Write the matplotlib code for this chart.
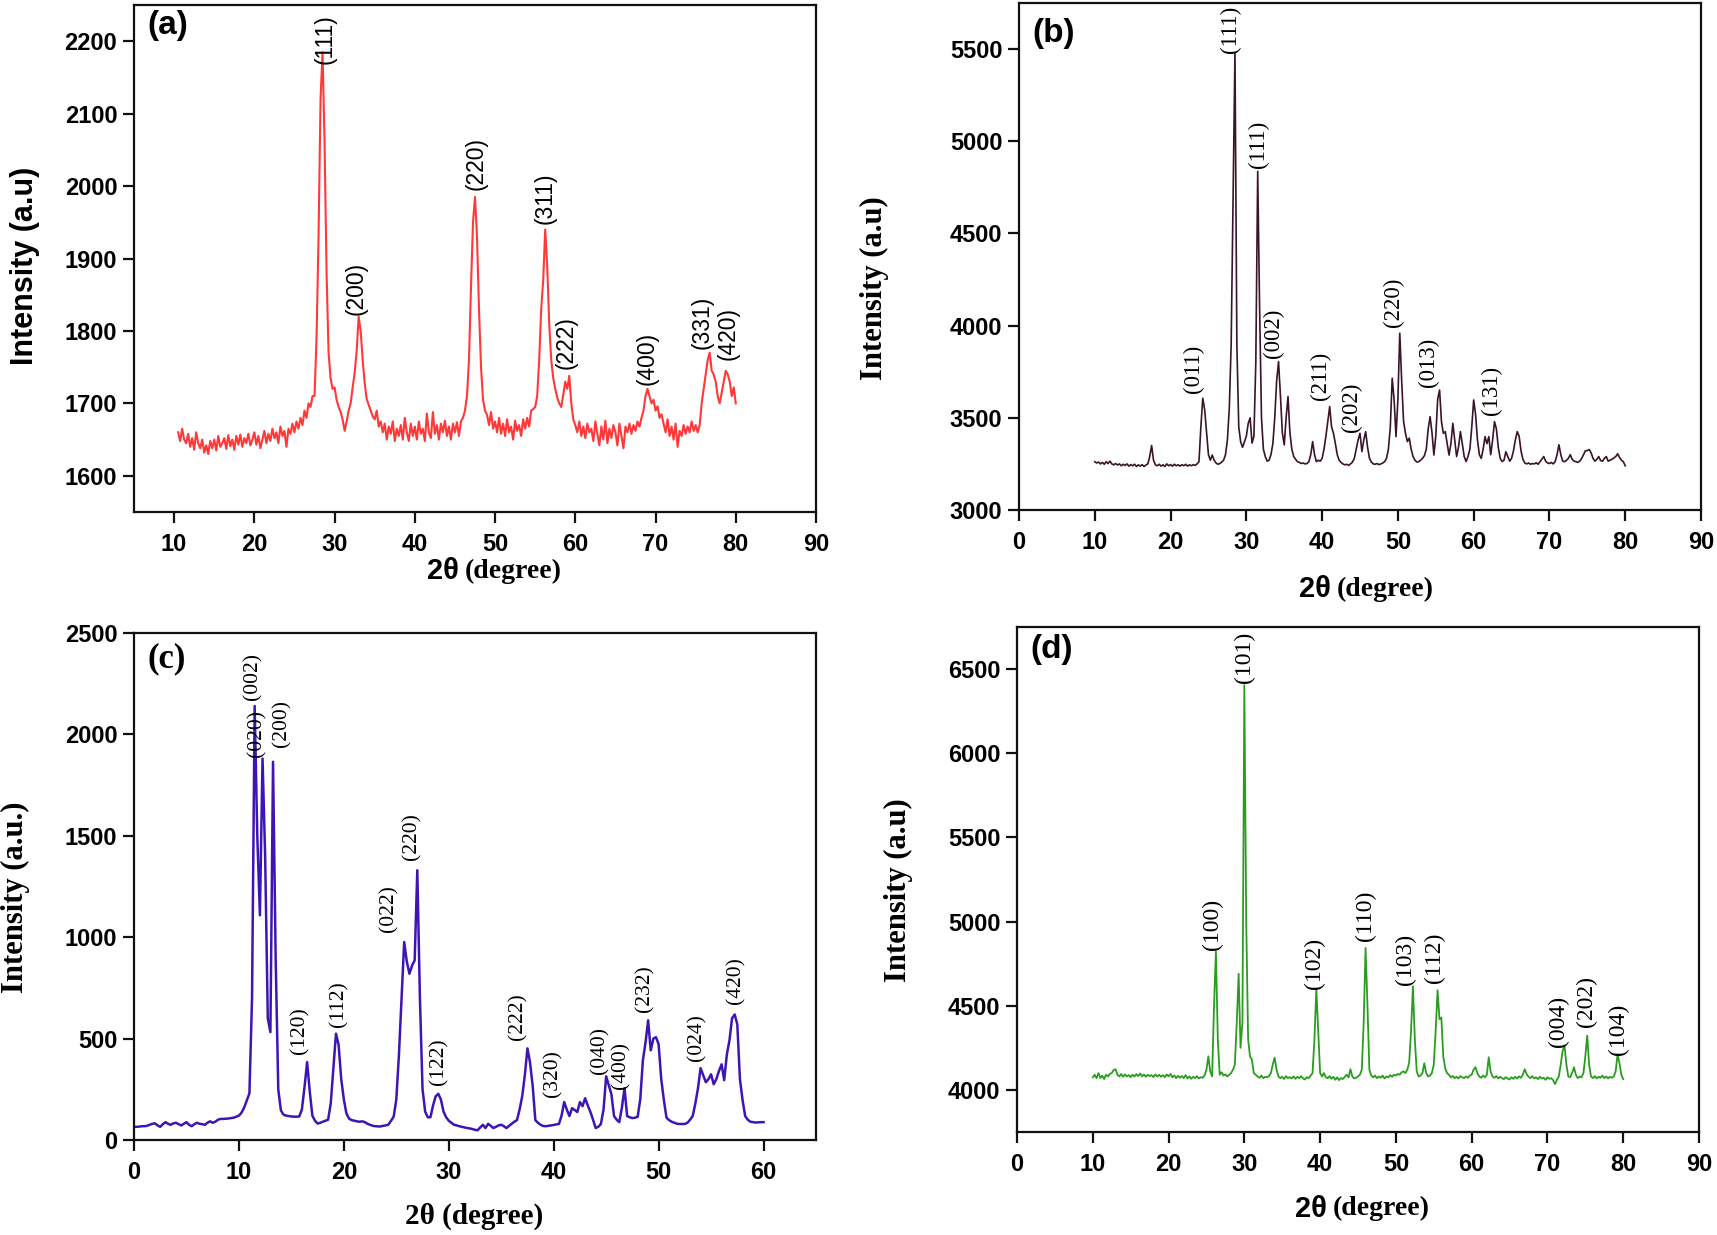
import numpy as np
import matplotlib
matplotlib.use("Agg")
import matplotlib.pyplot as plt

SANS = ['Liberation Sans', 'DejaVu Sans']
SERIF = ['Liberation Serif', 'DejaVu Serif']

STEP = 0.25

# ---------------- panel (a) ----------------
a_start = 10.5
a_y = [
    1660, 1648,
    1665, 1650, 1645, 1658,  # 11
    1640, 1652, 1636, 1660,  # 12
    1645, 1638, 1650, 1632,  # 13
    1642, 1630, 1648, 1638,  # 14
    1650, 1635, 1655, 1640,  # 15
    1645, 1652, 1637, 1656,  # 16
    1641, 1650, 1636, 1655,  # 17
    1643, 1657, 1640, 1652,  # 18
    1645, 1658, 1642, 1650,  # 19
    1660, 1643, 1655, 1638,  # 20
    1650, 1662, 1645, 1658,  # 21
    1648, 1665, 1652, 1660,  # 22
    1645, 1668, 1655, 1662,  # 23
    1640, 1665, 1658, 1672,  # 24
    1660, 1675, 1665, 1680,  # 25
    1670, 1690, 1680, 1700,  # 26
    1695, 1710, 1710, 1790,  # 27
    1930, 2120, 2185, 2060,  # 28
    1880, 1770, 1735, 1720,  # 29
    1722, 1705, 1695, 1688,  # 30
    1678, 1662, 1675, 1690,  # 31
    1700, 1722, 1742, 1772,  # 32
    1820, 1800, 1760, 1728,  # 33
    1706, 1698, 1690, 1682,  # 34
    1678, 1690, 1668, 1675,  # 35
    1660, 1672, 1650, 1668,  # 36
    1658, 1675, 1648, 1665,  # 37
    1655, 1670, 1650, 1680,  # 38
    1660, 1648, 1672, 1655,  # 39
    1668, 1650, 1675, 1658,  # 40
    1665, 1648, 1686, 1660,  # 41
    1652, 1688, 1658, 1670,  # 42
    1650, 1672, 1660, 1676,  # 43
    1655, 1668, 1650, 1672,  # 44
    1660, 1674, 1655, 1675,  # 45
    1680, 1690, 1710, 1760,  # 46
    1860, 1950, 1985, 1930,  # 47
    1830, 1750, 1705, 1690,  # 48
    1684, 1670, 1688, 1665,  # 49
    1675, 1660, 1680, 1658,  # 50
    1672, 1655, 1678, 1660,  # 51
    1668, 1650, 1676, 1662,  # 52
    1670, 1655, 1678, 1665,  # 53
    1680, 1668, 1690, 1692,  # 54
    1695, 1710, 1760, 1830,  # 55
    1870, 1940, 1890, 1810,  # 56
    1760, 1735, 1720, 1708,  # 57
    1700, 1695, 1712, 1730,  # 58
    1720, 1738, 1700, 1678,  # 59
    1670, 1660, 1675, 1655,  # 60
    1668, 1652, 1672, 1660,  # 61
    1665, 1648, 1675, 1658,  # 62
    1642, 1668, 1650, 1676,  # 63
    1645, 1665, 1652, 1670,  # 64
    1660, 1642, 1672, 1655,  # 65
    1638, 1668, 1660, 1672,  # 66
    1658, 1670, 1662, 1675,  # 67
    1668, 1680, 1690, 1710,  # 68
    1720, 1710, 1700, 1705,  # 69
    1690, 1696, 1680, 1685,  # 70
    1672, 1660, 1678, 1655,  # 71
    1668, 1650, 1672, 1640,  # 72
    1662, 1655, 1670, 1658,  # 73
    1668, 1660, 1675, 1662,  # 74
    1670, 1660, 1670, 1700,  # 75
    1720, 1740, 1760, 1770,  # 76
    1745, 1740, 1730, 1710,  # 77
    1700, 1715, 1730, 1745,  # 78
    1740, 1730, 1710, 1722,  # 79
    1700,                    # 80
]
a_labels = ['(111)', '(200)', '(220)', '(311)', '(222)', '(400)', '(331)', '(420)']
a_lx = [28.8, 32.7, 47.6, 56.2, 58.9, 68.9, 75.8, 79.1]
a_ly = [2168, 1822, 1994, 1947, 1748, 1726, 1775, 1760]

# ---------------- panel (b) ----------------
b_start = 10.0
b_y = [
    3262, 3255, 3260, 3250,  # 10
    3258, 3248, 3262, 3252,  # 11
    3265, 3250, 3245, 3252,  # 12
    3244, 3250, 3240, 3248,  # 13
    3242, 3250, 3238, 3246,  # 14
    3240, 3248, 3236, 3245,  # 15
    3238, 3246, 3236, 3244,  # 16
    3250, 3290, 3350, 3270,  # 17
    3245, 3240, 3248, 3238,  # 18
    3245, 3236, 3250, 3240,  # 19
    3246, 3238, 3248, 3240,  # 20
    3245, 3238, 3246, 3240,  # 21
    3248, 3238, 3245, 3240,  # 22
    3246, 3242, 3250, 3262,  # 23
    3450, 3606, 3545, 3420,  # 24
    3300, 3270, 3298, 3270,  # 25
    3255, 3248, 3252, 3260,  # 26
    3270, 3300, 3380, 3550,  # 27
    3900, 4700, 5480, 3900,  # 28
    3450, 3370, 3340, 3370,  # 29
    3400, 3470, 3500, 3363,  # 30
    3400, 3800, 4837, 4100,  # 31
    3500, 3330, 3290, 3265,  # 32
    3270, 3300, 3360, 3500,  # 33
    3700, 3805, 3620, 3420,  # 34
    3353, 3500, 3615, 3420,  # 35
    3330, 3290, 3275, 3262,  # 36
    3258, 3252, 3255, 3250,  # 37
    3252, 3262, 3300, 3371,  # 38
    3300, 3262, 3270, 3265,  # 39
    3280, 3330, 3400, 3480,  # 40
    3561, 3450, 3416, 3360,  # 41
    3300, 3270, 3258, 3250,  # 42
    3245, 3248, 3242, 3250,  # 43
    3260, 3280, 3330, 3380,  # 44
    3416, 3317, 3380, 3425,  # 45
    3340, 3280, 3260, 3250,  # 46
    3248, 3252, 3246, 3250,  # 47
    3255, 3262, 3280, 3330,  # 48
    3450, 3715, 3600, 3398,  # 49
    3600, 3959, 3700, 3480,  # 50
    3416, 3371, 3390, 3330,  # 51
    3290, 3270, 3260, 3262,  # 52
    3270, 3280, 3295, 3330,  # 53
    3440, 3506, 3420, 3298,  # 54
    3400, 3600, 3651, 3480,  # 55
    3416, 3425, 3360, 3298,  # 56
    3360, 3470, 3380, 3290,  # 57
    3340, 3425, 3360, 3290,  # 58
    3263, 3290, 3330, 3450,  # 59
    3597, 3520, 3380, 3300,  # 60
    3280, 3330, 3398, 3360,  # 61
    3398, 3300, 3380, 3479,  # 62
    3440, 3340, 3280, 3263,  # 63
    3270, 3316, 3290, 3265,  # 64
    3280, 3320, 3380, 3425,  # 65
    3400, 3320, 3275, 3255,  # 66
    3250, 3255, 3248, 3252,  # 67
    3250, 3256, 3248, 3262,  # 68
    3275, 3290, 3265, 3255,  # 69
    3252, 3258, 3250, 3262,  # 70
    3300, 3354, 3300, 3265,  # 71
    3262, 3270, 3280, 3300,  # 72
    3275, 3265, 3262, 3258,  # 73
    3265, 3280, 3300, 3322,  # 74
    3322, 3328, 3310, 3280,  # 75
    3265, 3275, 3290, 3268,  # 76
    3265, 3280, 3290, 3265,  # 77
    3270, 3275, 3282, 3290,  # 78
    3305, 3285, 3270, 3262,  # 79
    3240,                    # 80
]
b_labels = ['(011)', '(111)', '(111)', '(002)', '(211)', '(202)', '(220)', '(013)', '(131)']
b_lx = [23.0, 27.9, 31.66, 33.55, 39.84, 43.9, 49.4, 54.0, 62.3]
b_ly = [3634, 5479, 4855, 3823, 3597, 3425, 3995, 3669, 3516]

# ---------------- panel (c) ----------------
c_start = 0.0
c_y = [
    65, 65, 66, 68,        # 0
    68, 70, 75, 80,        # 1
    82, 72, 65, 78,        # 2
    88, 80, 75, 82,        # 3
    85, 78, 72, 80,        # 4
    88, 75, 68, 78,        # 5
    85, 80, 78, 75,        # 6
    85, 92, 85, 90,        # 7
    100, 104, 104, 105,    # 8
    106, 108, 110, 115,    # 9
    120, 135, 160, 195,    # 10
    230, 700, 2140, 1500,  # 11
    1108, 1881, 1400, 600,  # 12
    532, 1865, 900, 250,   # 13
    146, 125, 120, 118,    # 14
    116, 115, 115, 116,    # 15
    150, 260, 384, 240,    # 16
    120, 95, 81, 85,       # 17
    90, 95, 100, 180,      # 18
    350, 524, 470, 300,    # 19
    200, 130, 105, 98,     # 20
    95, 92, 90, 92,        # 21
    88, 80, 75, 70,        # 22
    68, 67, 67, 70,        # 23
    72, 76, 95, 115,       # 24
    200, 420, 700, 976,    # 25
    880, 820, 860, 886,    # 26
    1330, 700, 250, 140,   # 27
    112, 112, 170, 215,    # 28
    228, 200, 140, 112,    # 29
    95, 85, 75, 72,        # 30
    68, 65, 62, 59,        # 31
    57, 54, 50, 48,        # 32
    62, 75, 59, 80,        # 33
    70, 59, 65, 72,        # 34
    75, 68, 59, 70,        # 35
    80, 90, 98, 150,       # 36
    216, 320, 452, 380,    # 37
    265, 98, 85, 75,       # 38
    69, 68, 70, 72,        # 39
    74, 77, 79, 120,       # 40
    187, 150, 118, 157,    # 41
    148, 138, 187, 167,    # 42
    206, 170, 138, 100,    # 43
    59, 65, 79, 150,       # 44
    314, 270, 226, 118,    # 45
    100, 88, 160, 255,     # 46
    118, 112, 108, 110,    # 47
    114, 200, 393, 480,    # 48
    590, 442, 500, 507,    # 49
    472, 300, 197, 110,    # 50
    98, 90, 85, 80,        # 51
    79, 79, 79, 85,        # 52
    100, 118, 180, 255,    # 53
    354, 320, 285, 300,    # 54
    324, 275, 300, 340,    # 55
    373, 295, 420, 491,    # 56
    600, 619, 570, 300,    # 57
    197, 118, 100, 90,     # 58
    88, 86, 87, 88,        # 59
    88,                    # 60
]
c_labels = ['(002)', '(020)', '(200)', '(120)', '(112)', '(022)', '(220)', '(122)',
            '(222)', '(320)', '(040)', '(400)', '(232)', '(024)', '(420)']
c_lx = [11.33, 11.72, 14.1, 15.85, 19.5, 24.29, 26.52, 29.07, 36.6, 39.9, 44.4, 46.4, 48.7, 53.6, 57.4]
c_ly = [2169, 1889, 1939, 425, 557, 1026, 1380, 269, 491, 211, 327, 253, 631, 392, 672]

# ---------------- panel (d) ----------------
d_start = 10.0
d_y = [
    4075, 4090, 4070, 4100,  # 10
    4070, 4085, 4065, 4090,  # 11
    4080, 4095, 4100, 4118,  # 12
    4123, 4090, 4080, 4095,  # 13
    4078, 4092, 4080, 4088,  # 14
    4076, 4090, 4080, 4094,  # 15
    4082, 4098, 4080, 4092,  # 16
    4078, 4090, 4082, 4088,  # 17
    4076, 4092, 4080, 4090,  # 18
    4078, 4088, 4076, 4092,  # 19
    4080, 4095, 4075, 4086,  # 20
    4070, 4084, 4072, 4082,  # 21
    4070, 4088, 4068, 4080,  # 22
    4066, 4078, 4070, 4082,  # 23
    4068, 4076, 4072, 4085,  # 24
    4120, 4200, 4110, 4080,  # 25
    4500, 4823, 4300, 4090,  # 26
    4105, 4085, 4092, 4080,  # 27
    4090, 4100, 4120, 4150,  # 28
    4400, 4690, 4250, 4400,  # 29
    6405, 5000, 4300, 4200,  # 30
    4180, 4100, 4090, 4080,  # 31
    4072, 4085, 4070, 4078,  # 32
    4075, 4082, 4100, 4150,  # 33
    4191, 4120, 4080, 4070,  # 34
    4078, 4065, 4082, 4070,  # 35
    4076, 4068, 4080, 4066,  # 36
    4078, 4070, 4082, 4068,  # 37
    4062, 4076, 4070, 4085,  # 38
    4100, 4300, 4600, 4350,  # 39
    4100, 4080, 4100, 4075,  # 40
    4070, 4082, 4066, 4078,  # 41
    4060, 4075, 4058, 4070,  # 42
    4065, 4078, 4090, 4075,  # 43
    4123, 4080, 4068, 4072,  # 44
    4080, 4090, 4120, 4400,  # 45
    4843, 4500, 4120, 4085,  # 46
    4075, 4085, 4070, 4080,  # 47
    4072, 4085, 4068, 4080,  # 48
    4075, 4088, 4078, 4090,  # 49
    4085, 4095, 4090, 4105,  # 50
    4110, 4100, 4120, 4160,  # 51
    4350, 4616, 4300, 4110,  # 52
    4080, 4085, 4100, 4158,  # 53
    4100, 4080, 4085, 4100,  # 54
    4150, 4350, 4592, 4420,  # 55
    4430, 4200, 4130, 4100,  # 56
    4090, 4075, 4082, 4070,  # 57
    4078, 4068, 4082, 4075,  # 58
    4070, 4080, 4072, 4085,  # 59
    4090, 4120, 4135, 4100,  # 60
    4080, 4072, 4085, 4075,  # 61
    4090, 4194, 4110, 4080,  # 62
    4072, 4082, 4068, 4078,  # 63
    4070, 4064, 4076, 4068,  # 64
    4062, 4075, 4066, 4078,  # 65
    4068, 4080, 4072, 4090,  # 66
    4123, 4095, 4078, 4070,  # 67
    4082, 4068, 4075, 4064,  # 68
    4078, 4068, 4072, 4060,  # 69
    4075, 4066, 4070, 4058,  # 70
    4035, 4060, 4080, 4150,  # 71
    4230, 4264, 4150, 4080,  # 72
    4075, 4100, 4135, 4090,  # 73
    4070, 4080, 4075, 4100,  # 74
    4200, 4323, 4150, 4080,  # 75
    4070, 4082, 4068, 4078,  # 76
    4072, 4085, 4070, 4080,  # 77
    4068, 4078, 4072, 4080,  # 78
    4110, 4210, 4160, 4090,  # 79
    4064,                    # 80
]
d_labels = ['(100)', '(101)', '(102)', '(110)', '(103)', '(112)', '(004)', '(202)', '(104)']
d_lx = [25.8, 29.95, 39.3, 46.0, 51.3, 55.1, 71.4, 75.2, 79.4]
d_ly = [4833, 6415, 4600, 4883, 4626, 4636, 4253, 4371, 4210]

# ---------------- figure ----------------
W, H = 1717, 1235
fig = plt.figure(figsize=(W / 100, H / 100), dpi=100)
fig.patch.set_facecolor('white')


def px_axes(left, top, right, bottom):
    return fig.add_axes([left / W, 1 - bottom / H, (right - left) / W, (bottom - top) / H])


def style(ax, xlim, xticks, ylim, yticks):
    ax.set_xlim(*xlim)
    ax.set_ylim(*ylim)
    ax.set_xticks(xticks)
    ax.set_yticks(yticks)
    for s in ax.spines.values():
        s.set_linewidth(1.6)
        s.set_color('#111111')
    ax.tick_params(axis='both', which='major', direction='out', length=8, width=1.6,
                   color='#111111', top=False, right=False)
    ax.tick_params(axis='x', pad=7)
    ax.tick_params(axis='y', pad=4)
    for lab in ax.get_xticklabels() + ax.get_yticklabels():
        lab.set_fontfamily(SANS)
        lab.set_fontweight('bold')
        lab.set_fontsize(17)


def plot_curve(ax, start, ys, color, lw):
    xs = start + STEP * np.arange(len(ys))
    ax.plot(xs, ys, color=color, lw=lw, solid_joinstyle='round')


def peak_labels(ax, names, lx, ly, family, size):
    for n, x, y in zip(names, lx, ly):
        ax.text(x, y, n, rotation=90, ha='center', va='bottom', fontsize=size,
                fontfamily=family, color='black')


def xlabel_split(ax, xsplit, y):
    ax.text(xsplit, y, '2θ', transform=ax.transAxes, ha='right', va='center',
            fontsize=21, fontweight='bold', fontfamily=SANS)
    ax.text(xsplit + 0.009, y, '(degree)', transform=ax.transAxes, ha='left', va='center',
            fontsize=20, fontweight='bold', fontfamily=SERIF)


# (a)
axa = px_axes(134, 5, 816, 512)
plot_curve(axa, a_start, a_y, '#ff3838', 1.5)
style(axa, (5, 90), range(10, 91, 10), (1550, 2250), range(1600, 2201, 100))
peak_labels(axa, a_labels, a_lx, a_ly, SANS, 16.5)
axa.text(0.02, 0.99, '(a)', transform=axa.transAxes, ha='left', va='top',
         fontsize=24, fontweight='bold', fontfamily=SANS)
axa.text(-0.160, 0.485, 'Intensity (a.u)', transform=axa.transAxes, rotation=90,
         ha='center', va='center', fontsize=22, fontweight='bold', fontfamily=SANS)
xlabel_split(axa, 0.4766, -0.117)

# (b)
axb = px_axes(1019, 3, 1701, 510)
plot_curve(axb, b_start, b_y, '#3a1428', 1.2)
style(axb, (0, 90), range(0, 91, 10), (3000, 5750), range(3000, 5501, 500))
peak_labels(axb, b_labels, b_lx, b_ly, SERIF, 16.5)
axb.text(0.02, 0.97, '(b)', transform=axb.transAxes, ha='left', va='top',
         fontsize=24, fontweight='bold', fontfamily=SANS)
axb.text(-0.2126, 0.437, 'Intensity (a.u)', transform=axb.transAxes, rotation=90,
         ha='center', va='center', fontsize=22, fontweight='bold', fontfamily=SERIF)
xlabel_split(axb, 0.4575, -0.156)

# (c)
axc = px_axes(134, 633, 816, 1140)
plot_curve(axc, c_start, c_y, '#3c16b4', 1.8)
style(axc, (0, 65), range(0, 61, 10), (0, 2500), range(0, 2501, 500))
peak_labels(axc, c_labels, c_lx, c_ly, SERIF, 15.5)
axc.text(0.02, 0.981, '(c)', transform=axc.transAxes, ha='left', va='top',
         fontsize=25, fontweight='bold', fontfamily=SERIF)
axc.text(-0.1745, 0.479, 'Intensity (a.u.)', transform=axc.transAxes, rotation=90,
         ha='center', va='center', fontsize=22, fontweight='bold', fontfamily=SERIF)
axc.text(0.498, -0.151, '2θ (degree)', transform=axc.transAxes, ha='center', va='center',
         fontsize=21, fontweight='bold', fontfamily=SERIF)

# (d)
axd = px_axes(1017, 627, 1699, 1132)
plot_curve(axd, d_start, d_y, '#2a9d1f', 1.3)
style(axd, (0, 90), range(0, 91, 10), (3750, 6750), range(4000, 6501, 500))
peak_labels(axd, d_labels, d_lx, d_ly, SERIF, 17)
axd.text(0.019, 0.987, '(d)', transform=axd.transAxes, ha='left', va='top',
         fontsize=24, fontweight='bold', fontfamily=SANS)
axd.text(-0.1745, 0.478, 'Intensity (a.u)', transform=axd.transAxes, rotation=90,
         ha='center', va='center', fontsize=22, fontweight='bold', fontfamily=SERIF)
xlabel_split(axd, 0.454, -0.152)

fig.savefig('out.png', dpi=100, facecolor='white')
